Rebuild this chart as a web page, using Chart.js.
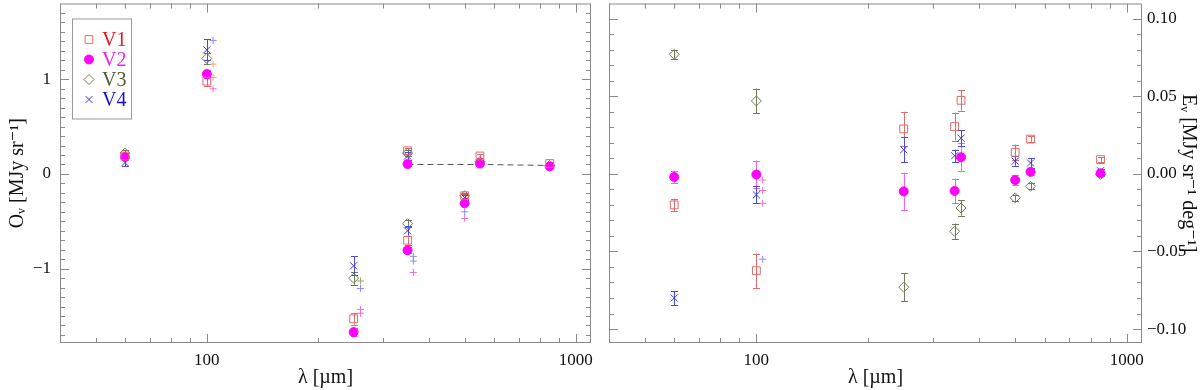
<!DOCTYPE html>
<html>
<head>
<meta charset="utf-8">
<script src="https://cdn.jsdelivr.net/npm/chart.js@4"></script>
<style>
  body { margin: 0; background: #fff; overflow: hidden; }
  #wrap { position: relative; width: 1200px; height: 390px; overflow: hidden; }
  canvas { position: absolute; top: -3px; }
</style>
</head>
<body>
<div id="wrap">
  <canvas id="left" width="600" height="393" style="left:0"></canvas>
  <canvas id="right" width="600" height="393" style="left:600px"></canvas>
</div>
<script>
const SERIF = '"Liberation Serif", "DejaVu Serif", serif';

// wavelengths in micron
const lamO = [60, 100, 250, 350, 350, 500, 550, 850];
const lamE = [60, 100, 250, 343, 357, 500, 550, 850];

const names = ['V1', 'V2', 'V3', 'V4'];

// left panel: O_nu [MJy/sr]
const oV1 = [0.19, 0.98, -1.53, 0.245, -0.70, -0.23, 0.19, 0.11];
const oV2 = [0.18, 1.055, -1.67, 0.105, -0.805, -0.31, 0.11, 0.08];
const oV3 = [0.22, 1.22, -1.10, 0.22, -0.525, -0.23, 0.13, 0.09];
const oV4 = [0.12, 1.31, -0.97, 0.19, -0.60, -0.25, 0.11, 0.077];
const oErrV1 = [0.03, 0.05, 0.06, 0.03, 0.05, 0.02, 0.02, 0.015];
const oErrV2 = [0.03, 0.04, 0.04, 0.02, 0.03, 0.02, 0.02, 0.015];
const oErrV3 = [0.03, 0.06, 0.07, 0.03, 0.04, 0.03, 0.02, 0.015];
const oErrV4 = [0.04, 0.11, 0.10, 0.04, 0.05, 0.03, 0.02, 0.015];

// right panel: E_nu [MJy/sr/deg]
const eV1 = [-0.020, -0.0624, 0.029, 0.0305, 0.0474, 0.0139, 0.0224, 0.0092];
const eV2 = [-0.002, -0.0004, -0.0113, -0.011, 0.0107, -0.004, 0.0013, 0.0004];
const eV3 = [0.077, 0.047, -0.073, -0.037, -0.022, -0.0154, -0.008, -0.0004];
const eV4 = [-0.080, -0.0135, 0.0156, 0.0117, 0.023, 0.0082, 0.007, 0.002];
const eErrV1 = [0.004, 0.011, 0.011, 0.009, 0.0066, 0.005, 0.002, 0.0015];
const eErrV2 = [0.004, 0.009, 0.012, 0.008, 0.009, 0.003, 0.002, 0.001];
const eErrV3 = [0.003, 0.008, 0.009, 0.005, 0.005, 0.002, 0.002, 0.001];
const eErrV4 = [0.0045, 0.0055, 0.008, 0.004, 0.005, 0.003, 0.003, 0.001];

// small "+" estimates
const plusOLam = [104, 104, 104, 104, 261, 261, 261, 261, 363, 363, 363, 500, 500];
const plusOVal = [1.41, 1.16, 1.02, 0.90, -1.13, -1.21, -1.43, -1.47, -0.87, -0.92, -1.04, -0.40, -0.47];
const plusOKind = ['b', 'o', 'o', 'p', 'g', 'b', 'p', 'p', 'b', 'b', 'p', 'b', 'p'];
const plusELam = [104, 104, 104, 104];
const plusEVal = [-0.004, -0.0107, -0.019, -0.055];
const plusEKind = ['p', 'p', 'p', 'b'];

// dashed reference line
const dashLam = [350, 550, 850];
const dashVal = [0.10, 0.10, 0.09];

// ticks
const xMajor = [100, 1000];
const oMajor = [-1, 0, 1];
const eMajor = [-0.10, -0.05, 0.00, 0.05, 0.10];

const markerColor = ['#e26a6a', '#ff00ff', '#6f7c55', '#3a3ae0'];
const errColor = ['#e26a6a', '#f060f0', '#6f7c55', '#4a4ae0'];
const textColor = ['#e8141c', '#f020f0', '#4d5c30', '#1414d0'];
const markerStyle = ['rect', 'circle', 'rectRot', 'crossRot'];
const markerFill = ['rgba(0,0,0,0)', '#ff00ff', 'rgba(0,0,0,0)', 'rgba(0,0,0,0)'];
const markerRadius = [5.5, 4.5, 5, 5];
const plusColor = { b: '#8a8aff', o: '#f0a070', p: '#f070c8', g: '#98a878' };

function pts(xs, ys) { return xs.map((x, i) => ({ x: x, y: ys[i] })); }

function seriesSets(lam, vals, errs) {
  return vals.map((v, k) => ({
    label: names[k],
    data: pts(lam, v),
    errors: errs[k],
    errColor: errColor[k],
    showLine: false,
    pointStyle: markerStyle[k],
    pointRadius: markerRadius[k],
    pointBorderWidth: 1,
    pointBorderColor: markerColor[k],
    pointBackgroundColor: markerFill[k],
    borderColor: markerColor[k],
    backgroundColor: markerFill[k]
  }));
}

function plusSet(lam, vals, kinds) {
  return {
    label: 'plus',
    data: pts(lam, vals),
    showLine: false,
    pointStyle: 'cross',
    pointRadius: 3.5,
    pointBorderWidth: 1,
    pointBorderColor: kinds.map(k => plusColor[k])
  };
}

function minorLog() {
  const out = [];
  for (let d = 10; d <= 100; d *= 10)
    for (let m = 2; m <= 9; m++) {
      const v = m * d;
      if (v >= 40 && v <= 1100 && v !== 100) out.push(v);
    }
  return out;
}
function minorLin(step, lim) {
  const out = [];
  const n = Math.floor(lim / step + 1e-6);
  for (let i = -n; i <= n; i++) out.push(+(i * step).toFixed(4));
  return out;
}

const frameTicks = {
  id: 'frameTicks',
  afterDraw(chart, args, opts) {
    const { ctx, chartArea: a } = chart;
    const xs = chart.scales.x, ys = chart.scales.y;
    ctx.save();
    ctx.strokeStyle = '#8a8a8a';
    ctx.lineWidth = 1;
    ctx.strokeRect(a.left + 0.5, a.top + 0.5, a.right - a.left - 1, a.bottom - a.top - 1);
    ctx.beginPath();
    const tx = (v, len) => {
      const p = Math.round(xs.getPixelForValue(v)) + 0.5;
      ctx.moveTo(p, a.bottom); ctx.lineTo(p, a.bottom - len);
      ctx.moveTo(p, a.top); ctx.lineTo(p, a.top + len);
    };
    const ty = (v, len) => {
      const p = Math.round(ys.getPixelForValue(v)) + 0.5;
      ctx.moveTo(a.left, p); ctx.lineTo(a.left + len, p);
      ctx.moveTo(a.right, p); ctx.lineTo(a.right - len, p);
    };
    xMajor.forEach(v => tx(v, 9));
    minorLog().forEach(v => tx(v, 5));
    opts.yMajor.forEach(v => ty(v, 9));
    opts.yMinor.forEach(v => { if (!opts.yMajor.some(m => Math.abs(m - v) < 1e-6)) ty(v, 5); });
    ctx.stroke();
    ctx.restore();
  }
};

const errorBars = {
  id: 'errorBars',
  beforeDatasetsDraw(chart) {
    const ctx = chart.ctx;
    const xs = chart.scales.x, ys = chart.scales.y;
    ctx.save();
    ctx.lineWidth = 1;
    chart.data.datasets.forEach(ds => {
      if (!ds.errors) return;
      ctx.strokeStyle = ds.errColor;
      ctx.beginPath();
      ds.data.forEach((p, j) => {
        const e = ds.errors[j];
        const x = Math.round(xs.getPixelForValue(p.x)) + 0.5;
        const y1 = ys.getPixelForValue(p.y + e);
        const y2 = ys.getPixelForValue(p.y - e);
        ctx.moveTo(x, y1); ctx.lineTo(x, y2);
        ctx.moveTo(x - 3.5, Math.round(y1) + 0.5); ctx.lineTo(x + 3.5, Math.round(y1) + 0.5);
        ctx.moveTo(x - 3.5, Math.round(y2) + 0.5); ctx.lineTo(x + 3.5, Math.round(y2) + 0.5);
      });
      ctx.stroke();
    });
    ctx.restore();
  }
};

const boxLegend = {
  id: 'boxLegend',
  afterDraw(chart, args, opts) {
    if (!opts.show) return;
    const ctx = chart.ctx;
    const a = chart.chartArea;
    const bx = a.left + 12, by = a.top + 15;
    ctx.save();
    ctx.strokeStyle = '#9a9a9a';
    ctx.lineWidth = 1;
    ctx.strokeRect(bx + 0.5, by + 0.5, 59, 100);
    ctx.font = '20px ' + SERIF;
    ctx.textBaseline = 'middle';
    names.forEach((n, k) => {
      const y = by + 21 + k * 20;
      ctx.strokeStyle = markerColor[k];
      ctx.fillStyle = markerFill[k];
      Chart.helpers.drawPoint(ctx, { pointStyle: markerStyle[k], radius: markerRadius[k], rotation: 0, borderWidth: 1 }, bx + 17, y);
      ctx.fillStyle = textColor[k];
      ctx.fillText(n, bx + 30, y + 1);
    });
    ctx.restore();
  }
};

function xScale() {
  return {
    type: 'logarithmic', min: 40, max: 1100, position: 'bottom',
    grid: { display: false, drawTicks: false },
    border: { display: false },
    afterBuildTicks: s => { s.ticks = xMajor.map(v => ({ value: v })); },
    afterFit: s => { s.height = 47; s.paddingLeft = 0; s.paddingRight = 0; },
    ticks: { padding: 7, color: '#111', maxRotation: 0, autoSkip: false,
             font: { family: SERIF, size: 17 }, callback: v => String(v) },
    title: { display: true, text: 'λ [µm]', color: '#111', padding: 0,
             font: { family: SERIF, size: 20 } }
  };
}

const fmtMinus = s => s.replace('-', '\u2212');

function makeChart(id, cfg) {
  return new Chart(document.getElementById(id), {
    type: 'scatter',
    data: { datasets: cfg.datasets },
    options: {
      responsive: false,
      animation: false,
      layout: { padding: cfg.padding },
      plugins: {
        legend: { display: false },
        tooltip: { enabled: false },
        frameTicks: { yMajor: cfg.yMajor, yMinor: cfg.yMinor },
        boxLegend: { show: cfg.legend }
      },
      scales: {
        x: xScale(),
        y: {
          type: 'linear', min: cfg.yMin, max: cfg.yMax, position: cfg.yPos,
          grid: { display: false, drawTicks: false },
          border: { display: false },
          afterBuildTicks: s => { s.ticks = cfg.yMajor.map(v => ({ value: v })); },
          afterFit: s => { s.width = cfg.yWidth; s.paddingTop = 0; s.paddingBottom = 0; },
          ticks: { padding: cfg.yPad, color: '#111', font: { family: SERIF, size: 17 },
                   callback: cfg.yFmt },
          title: { display: true, text: cfg.yTitle, color: '#111', padding: cfg.titlePad,
                   font: { family: SERIF, size: 20 } }
        }
      }
    },
    plugins: [errorBars, frameTicks, boxLegend]
  });
}

const leftSets = seriesSets(lamO, [oV1, oV2, oV3, oV4], [oErrV1, oErrV2, oErrV3, oErrV4]);
leftSets.push(plusSet(plusOLam, plusOVal, plusOKind));
leftSets.push({
  label: 'dash', data: pts(dashLam, dashVal), showLine: true, pointRadius: 0,
  borderColor: '#555', borderWidth: 1, borderDash: [6, 4]
});

makeChart('left', {
  datasets: leftSets,
  padding: { left: 0, right: 9, top: 0, bottom: 0 },
  yMin: -1.785, yMax: 1.8, yPos: 'left', yWidth: 60, yPad: 9,
  yMajor: oMajor, yMinor: minorLin(0.1, 1.78),
  yFmt: v => fmtMinus(String(v)),
  yTitle: 'O\u1D65 [MJy sr\u207B\u00B9]', titlePad: { top: 6, bottom: 0 },
  legend: true
});

const rightSets = seriesSets(lamE, [eV1, eV2, eV3, eV4], [eErrV1, eErrV2, eErrV3, eErrV4]);
rightSets.push(plusSet(plusELam, plusEVal, plusEKind));

makeChart('right', {
  datasets: rightSets,
  padding: { left: 9, right: 0, top: 0, bottom: 0 },
  yMin: -0.109, yMax: 0.1098, yPos: 'right', yWidth: 58, yPad: 5,
  yMajor: eMajor, yMinor: minorLin(0.01, 0.109),
  yFmt: v => fmtMinus(Number(v).toFixed(2)),
  yTitle: 'E\u1D65 [MJy sr\u207B\u00B9 deg\u207B\u00B9]', titlePad: { top: 0, bottom: 0 },
  legend: false
});
</script>
</body>
</html>
